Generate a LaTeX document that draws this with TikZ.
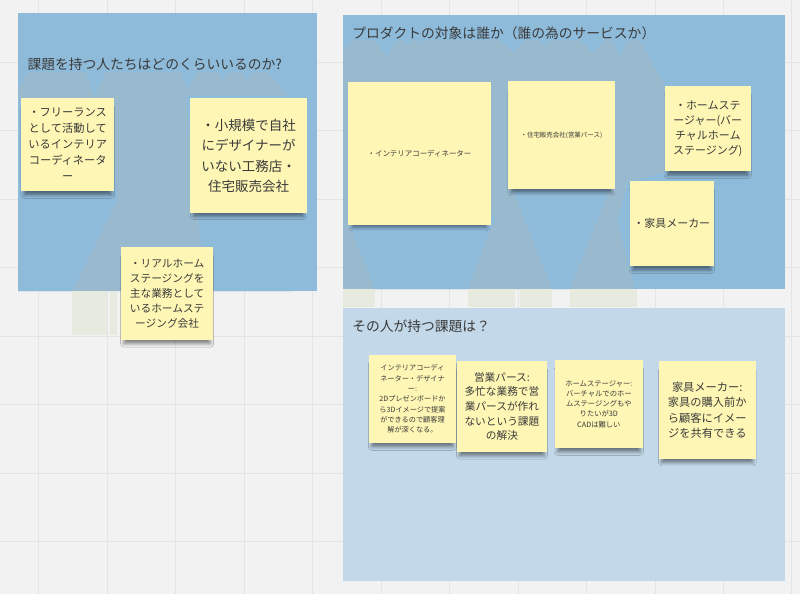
\documentclass[tikz,border=0pt]{standalone}
\usepackage{fontspec}
\setmainfont{Noto Sans CJK JP}
\usepackage{xcolor}
\usetikzlibrary{shadows.blur}
\definecolor{boardgrey}{HTML}{F2F2F2}
\definecolor{gridgrey}{HTML}{E4E4E4}
\definecolor{frameblue}{HTML}{8FBBDA}
\definecolor{framepale}{HTML}{C3D8E8}
\definecolor{ditherblue}{HTML}{99B9CF}
\definecolor{ditherpale}{HTML}{E7EADF}
\definecolor{notey}{HTML}{FEF6B4}
\definecolor{inkgrey}{HTML}{3A3A3A}

\begin{document}
\begin{tikzpicture}[
    x=0.025cm, y=-0.025cm,
    gridline/.style={draw=gridgrey, line width=0.4pt},
    dither/.style={fill=ditherblue, draw=none},
    note/.style 2 args={fill=notey, minimum width=#1*0.025cm, minimum height=#2*0.025cm,
        inner sep=1pt, align=center, text=inkgrey,
        blur shadow={shadow xshift=0pt, shadow yshift=-5pt, shadow scale=0.94,
            shadow opacity=45, shadow blur radius=2.5pt}},
    heading/.style={anchor=west, inner sep=0pt, text=inkgrey, font=\fontsize{9.8}{12}\selectfont}
]

% board
\fill[boardgrey] (0,0) rectangle (800,594);
\foreach \gx in {38.5,107,...,800} \draw[gridline] (\gx,0) -- (\gx,594);
\foreach \gy in {62,130.5,...,594} \draw[gridline] (0,\gy) -- (800,\gy);
\useasboundingbox (0,0) rectangle (800,594);

% frames
\fill[frameblue] (18,13) rectangle (317,291);
\fill[frameblue] (343,15) rectangle (785,289);
\fill[framepale] (343,308) rectangle (785,581);

% dithered areas, frame 1
\fill[dither] (18,90) -- (28,72) -- (85,72) -- (95,97) -- (105,72) -- (180,72) -- (187,90)
    -- (197,72) -- (218,72) -- (223,82) -- (228,72) -- (242,72) -- (247,83) -- (252,72)
    -- (267,72) -- (292,100) -- (292,291) -- (18,291) -- cycle;
\fill[frameblue] (18,98) -- (110,98) -- (117,200) -- (72,291) -- (18,291) -- cycle;
\fill[frameblue] (186,96) -- (201,247) -- (214,247) -- (214,291) -- (293,291) -- (293,96) -- cycle;
\fill[ditherpale] (72,291) rectangle (107,335);
\fill[ditherpale] (110,291) rectangle (117,335);

% dithered areas, frame 2
\fill[dither] (343,52) -- (352,40) -- (375,40) -- (387,57) -- (397,40) -- (402,40) -- (407,45)
    -- (412,40) -- (418,40) -- (422,43) -- (426,40) -- (500,40) -- (513,52) -- (526,40)
    -- (538,40) -- (545,45) -- (552,40) -- (580,40) -- (593,53) -- (606,40) -- (612,40)
    -- (620,57) -- (628,40) -- (640,40) -- (665,86) -- (665,172) -- (628,182) -- (617,220)
    -- (635,289) -- (343,289) -- cycle;
\fill[frameblue] (513,189) -- (610,189) -- (570,289) -- (552,289) -- cycle;
\fill[frameblue] (350,225) -- (496,215) -- (468,289) -- (375,289) -- cycle;
\fill[ditherpale] (343,289) rectangle (375,307);
\fill[ditherpale] (468,289) rectangle (515,307);
\fill[ditherpale] (520,289) rectangle (552,307);
\fill[ditherpale] (570,289) rectangle (637,307);

% titles
\node[heading] (howmany) at (27,64) {課題を持つ人たちはどのくらいいるのか?};
\node[heading] (target) at (352,33) {プロダクトの対象は誰か（誰の為のサービスか）};
\node[heading] (issues) at (352,326) {その人が持つ課題は？};

% how many
\node[note={93}{93}, font=\fontsize{8}{11.4}\selectfont] (freelance) at (67.5,144.5)
    {・フリーランス\\として活動して\\いるインテリア\\コーディネータ\\ー};
\node[note={117}{115}, font=\fontsize{9.6}{14.6}\selectfont] (builder) at (248.5,155.5)
    {・小規模で自社\\にデザイナーが\\いない工務店・\\住宅販売会社};
\node[note={92}{93}, font=\fontsize{7.6}{10.7}\selectfont] (stager) at (167,293.5)
    {・リアルホーム\\ステージングを\\主な業務として\\いるホームステ\\ージング会社};

% target
\node[note={143}{143}, font=\fontsize{5.3}{7}\selectfont] (coord) at (419.5,153.5)
    {・インテリアコーディネーター};
\node[note={107}{108}, font=\fontsize{4.6}{6}\selectfont] (sales) at (561.5,135)
    {・住宅販売会社(営業パース)};
\node[note={86}{85}, font=\fontsize{7.8}{10.7}\selectfont] (vstager) at (708,128.5)
    {・ホームステ\\ージャー(バー\\チャルホーム\\ステージング)};
\node[note={84}{85}, font=\fontsize{7.8}{10.7}\selectfont] (maker) at (672,223.5)
    {・家具メーカー};

% issues
\node[note={87}{88}, font=\fontsize{5.1}{7.3}\selectfont] (coordissue) at (412.5,399)
    {インテリアコーディ\\ネーター・デザイナ\\ー:\\2Dプレゼンボードか\\ら3Dイメージで提案\\ができるので顧客理\\解が深くなる。};
\node[note={90}{91}, font=\fontsize{7.6}{10.4}\selectfont] (salesissue) at (502,406.5)
    {営業パース:\\多忙な業務で営\\業パースが作れ\\ないという課題\\の解決};
\node[note={88}{88}, font=\fontsize{5.2}{7.3}\selectfont] (stagerissue) at (599,404)
    {ホームステージャー:\\バーチャルでのホー\\ムステージングもや\\りたいが3D\\CADは難しい};
\node[note={97}{98}, font=\fontsize{8}{11}\selectfont] (makerissue) at (707.5,410)
    {家具メーカー:\\家具の購入前か\\ら顧客にイメー\\ジを共有できる};

\end{tikzpicture}
\end{document}
